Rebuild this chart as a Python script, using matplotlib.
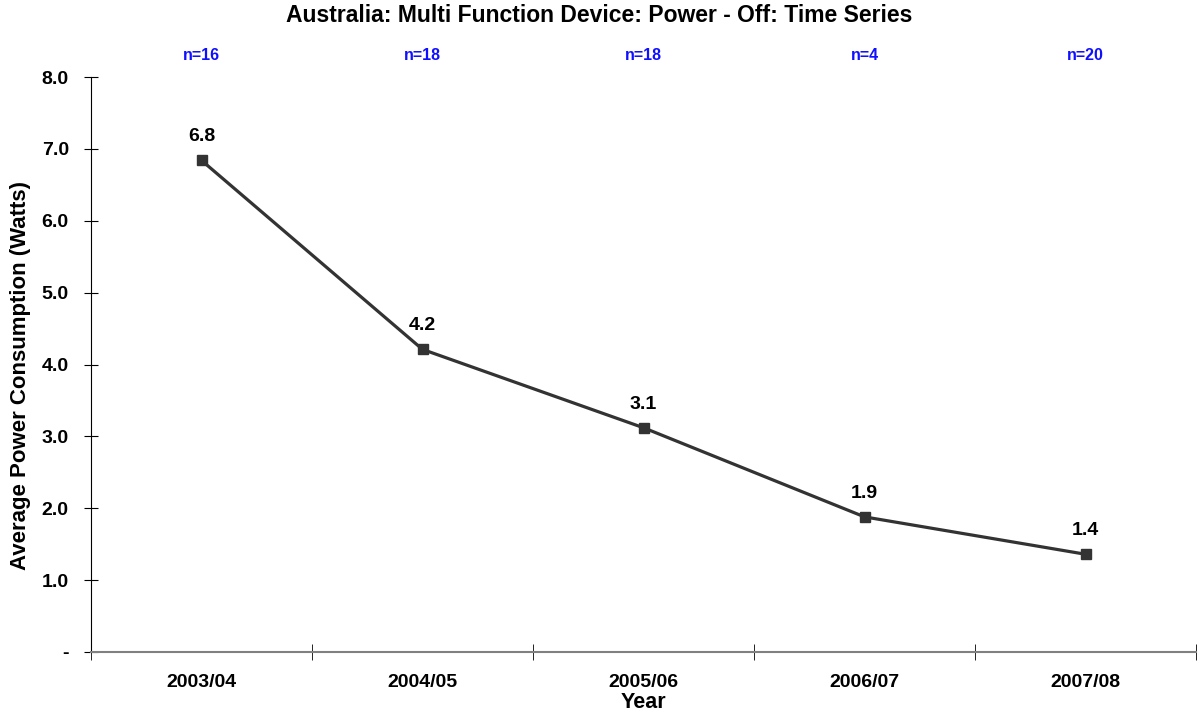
import matplotlib.pyplot as plt
from matplotlib.ticker import FixedLocator

plt.rcParams['font.family'] = ['Liberation Sans', 'DejaVu Sans']
plt.rcParams['font.weight'] = 'bold'

# Data
years = ['2003/04', '2004/05', '2005/06', '2006/07', '2007/08']
power = [6.84, 4.21, 3.12, 1.88, 1.36]
labels = ['6.8', '4.2', '3.1', '1.9', '1.4']
counts = ['n=16', 'n=18', 'n=18', 'n=4', 'n=20']

fig = plt.figure(figsize=(11.98, 7.15), dpi=100)
ax = fig.add_axes([91 / 1198, 1 - 652 / 715, (1196 - 91) / 1198, (652 - 77) / 715])

x = list(range(len(years)))
ax.plot(x, power, color='#333333', linewidth=2.3, marker='s', markersize=7,
        markerfacecolor='#333333', markeredgecolor='#333333')

for xi, yi, lab in zip(x, power, labels):
    ax.annotate(lab, (xi, yi), xytext=(0, 17), textcoords='offset points',
                ha='center', va='center', fontsize=14, fontweight='bold')

for xi, n in zip(x, counts):
    ax.text(xi, 1.038, n, transform=ax.get_xaxis_transform(), ha='center', va='center',
            color='#1010ff', fontsize=11.5, fontweight='bold')

ax.set_xlim(-0.5, len(years) - 0.5)
ax.set_ylim(0, 8)

ax.set_xticks(x)
ax.set_xticklabels(years, fontsize=14, fontweight='bold')
ax.tick_params(axis='x', which='major', length=0, pad=16)
ax.xaxis.set_minor_locator(FixedLocator([i - 0.5 for i in range(len(years) + 1)]))
ax.tick_params(axis='x', which='minor', length=11, direction='inout', color='black')

yt = list(range(0, 9))
ax.set_yticks(yt)
ax.set_yticklabels(['-'] + ['%.1f' % v for v in yt[1:]], fontsize=14, fontweight='bold')
ax.tick_params(axis='y', length=10, direction='inout', pad=11)

for side in ['top', 'right']:
    ax.spines[side].set_visible(False)
ax.spines['left'].set_color('black')
ax.spines['bottom'].set_color('#808080')
ax.spines['bottom'].set_linewidth(1.5)

ax.set_xlabel('Year', fontsize=15.5, fontweight='bold')
ax.xaxis.set_label_coords(0.5, -0.069)
ax.set_ylabel('Average Power Consumption (Watts)', fontsize=16, fontweight='bold')
ax.yaxis.set_label_coords(-0.054, 0.48)
fig.suptitle('Australia: Multi Function Device: Power - Off: Time Series',
             fontsize=16.5, fontweight='bold', x=0.5, y=0.979, va='center')

fig.savefig('out.png', dpi=100)
